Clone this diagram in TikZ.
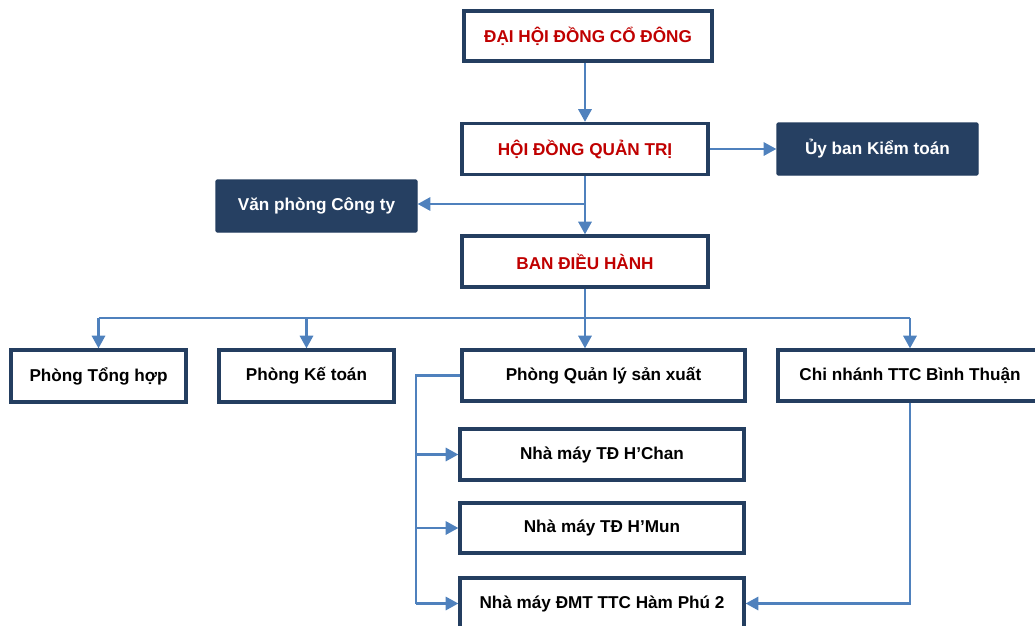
\documentclass[tikz,border=0pt]{standalone}
\usepackage{fontspec}
\setmainfont{Liberation Sans}
\usetikzlibrary{positioning, calc, arrows.meta}
\definecolor{navy}{RGB}{36,62,96}
\definecolor{navyfill}{RGB}{38,64,98}
\definecolor{linkblue}{RGB}{79,129,189}
\definecolor{headred}{RGB}{192,0,0}

\begin{document}
\begin{tikzpicture}[x=0.025cm, y=-0.025cm,
  box/.style={draw=navy, line width=2.4pt, fill=white, inner sep=0pt, font=\fontsize{12.2}{14}\selectfont\bfseries},
  headbox/.style={box, text=headred},
  darkbox/.style={draw=navy, line width=1pt, fill=navyfill, rounded corners=1pt, text=white, inner sep=0pt, font=\fontsize{12.2}{14}\selectfont\bfseries},
  line/.style={draw=linkblue, line width=1.5pt},
  conn/.style={line, -{Triangle[length=9pt, width=9.5pt]}}]
\useasboundingbox (0,0) rectangle (1035,626);
\clip (0,0) rectangle (1035,626);

\node[headbox, minimum width=248*0.025cm, minimum height=50*0.025cm] (dhcd) at (588,36) {ĐẠI HỘI ĐỒNG CỔ ĐÔNG};
\node[headbox, minimum width=246*0.025cm, minimum height=51*0.025cm] (hdqt) at (585,149) {HỘI ĐỒNG QUẢN TRỊ};
\node[darkbox, minimum width=201*0.025cm, minimum height=52*0.025cm] (uyban) at (877.5,149) {Ủy ban Kiểm toán};
\node[darkbox, minimum width=201*0.025cm, minimum height=52*0.025cm] (vanphong) at (316.5,206) {Văn phòng Công ty};
\node[headbox, minimum width=246*0.025cm, minimum height=51*0.025cm] (bdh) at (585,261.5) {BAN ĐIỀU HÀNH};

\node[box, minimum width=175*0.025cm, minimum height=52*0.025cm] (tonghop) at (98.5,376) {Phòng Tổng hợp};
\node[box, minimum width=175*0.025cm, minimum height=52*0.025cm] (ketoan) at (306.5,376) {Phòng Kế toán};
\node[box, minimum width=283*0.025cm, minimum height=51*0.025cm] (qlsx) at (603.5,375.5) {Phòng Quản lý sản xuất};
\node[box, minimum width=264*0.025cm, minimum height=51*0.025cm] (chinhanh) at (910,375.5) {Chi nhánh TTC Bình Thuận};

\node[box, minimum width=284*0.025cm, minimum height=51*0.025cm] (hchan) at (602,454.5) {Nhà máy TĐ H’Chan};
\node[box, minimum width=284*0.025cm, minimum height=50*0.025cm] (hmun) at (602,528) {Nhà máy TĐ H’Mun};
\node[box, minimum width=284*0.025cm, minimum height=51*0.025cm] (dmt) at (602,603.5) {Nhà máy ĐMT TTC Hàm Phú 2};

\coordinate (branch) at (585,204);
\coordinate (bus) at (585,318);
\coordinate (trunk) at (416,375.5);

\draw[conn] (hdqt.north |- dhcd.south) -- (hdqt.north);
\draw[conn] (hdqt.east) -- (uyban.west);
\draw[conn] (hdqt.south) -- (bdh.north);
\draw[conn] (branch) -- (branch -| vanphong.east);

\draw[line] (bdh.south) -- (bus);
\draw[line] (tonghop.north |- bus) -- (chinhanh.north |- bus);
\draw[conn] (tonghop.north |- bus) -- (tonghop.north);
\draw[conn] (ketoan.north |- bus) -- (ketoan.north);
\draw[conn] (bus) -- (qlsx.north -| bus);
\draw[conn] (chinhanh.north |- bus) -- (chinhanh.north);

\draw[line] (qlsx.west) -- (trunk) -- (trunk |- dmt);
\draw[conn] (trunk |- hchan) -- (hchan.west);
\draw[conn] (trunk |- hmun) -- (hmun.west);
\draw[conn] (trunk |- dmt) -- (dmt.west);
\draw[conn] (chinhanh.south) |- (dmt.east);
\end{tikzpicture}
\end{document}
